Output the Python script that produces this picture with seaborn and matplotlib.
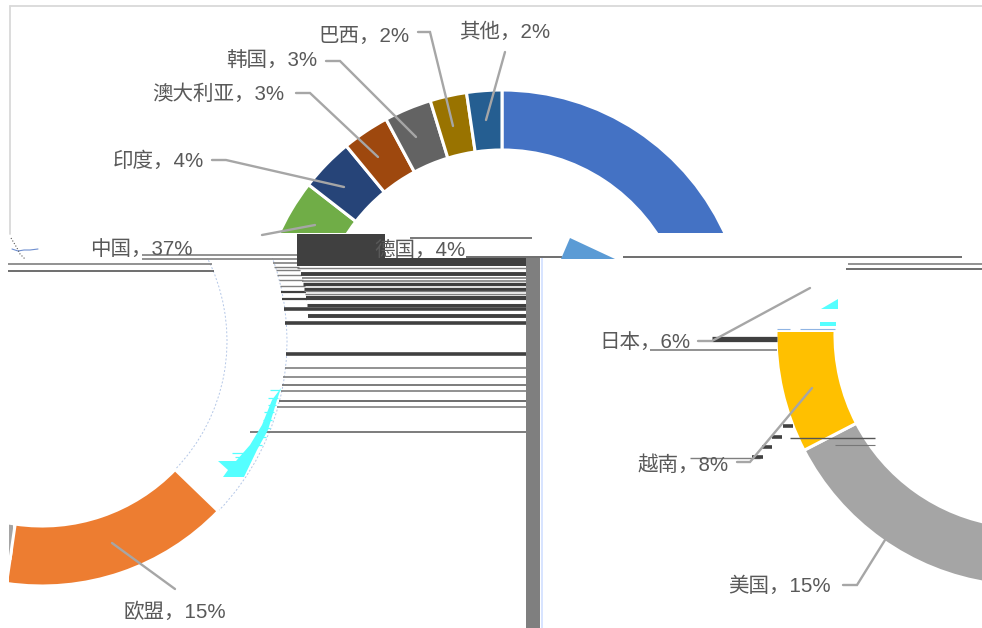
import matplotlib
matplotlib.use("Agg")
import matplotlib.pyplot as plt
from matplotlib.patches import Rectangle, Polygon
import seaborn as sns

sns.set_theme(style="white")

categories = ["中国", "欧盟", "美国", "越南", "日本", "德国", "印度", "澳大利亚", "韩国", "巴西", "其他"]
drawn_shares = [37.0, 15.0, 15.0, 8.0, 6.0, 4.0, 3.5, 3.1, 3.1, 2.4, 2.3]
label_shares = [37, 15, 15, 8, 6, 4, 4, 3, 3, 2, 2]
colors = sns.color_palette(["#4472C4", "#ED7D31", "#A5A5A5", "#FFC000", "#5B9BD5", "#70AD47",
                            "#264478", "#9E480E", "#636363", "#997300", "#255E91"])

H = 628
W = 982
fig = plt.figure(figsize=(9.82, 6.28), dpi=100)
ax = fig.add_axes([0, 0, 1, 1])
Y = lambda py: H - py
TXT = "#595959"
LEAD = "#A6A6A6"
DARK = "#404040"
MID = "#7F7F7F"
FONT = ["Liberation Sans", "Noto Sans CJK SC", "DejaVu Sans"]


def clip_rect(x0, y0, x1, y1):
    return Rectangle((x0, Y(y1)), x1 - x0, y1 - y0, transform=ax.transData)


def donut(cx, cy, R, r, clip, show):
    wedges, _ = ax.pie(drawn_shares, colors=colors, center=(cx, Y(cy)), radius=R, startangle=90,
                       counterclock=False, normalize=True,
                       wedgeprops=dict(width=R - r, edgecolor="white", linewidth=2.2))
    for i, w in enumerate(wedges):
        w.set_clip_on(True)
        w.set_clip_path(clip_rect(*clip))
        if i not in show:
            w.set_visible(False)
    return wedges


# the three displaced copies of the ring
donut(502, 335, 245, 185, (10, 0, W, 233), set(range(11)))
left = donut(42, 341, 245, 185, (9, 258, 600, H), {0, 1, 2})
left[0].set(facecolor="none", edgecolor="#B4C7E7", linewidth=0.7, linestyle=(0, (2, 2)))
left[2].set_clip_path(clip_rect(9, 500, 13, 560))
donut(1027, 335, 251, 192, (0, 332, W, H), {2, 3})

ax.set_xlim(0, W)
ax.set_ylim(0, H)
ax.set_aspect("auto")
ax.axis("off")

# frame remnant
ax.plot([10, 982], [Y(6), Y(6)], color="#D9D9D9", lw=1.3)
ax.plot([10, 10], [Y(6), Y(234)], color="#D9D9D9", lw=1.3)

# horizontal glitch bands: (y, x0, x1, colour, width in points)
bands = [
    (264, 8, 212, MID, 1.2), (270.5, 8, 214, "#555555", 1.2),
    (255, 142, 297, MID, 1.2), (259, 142, 297, MID, 1.2),
    (263, 273, 297, MID, 1.2), (267, 274, 299, MID, 1.0), (270, 276, 300, MID, 1.0),
    (275, 277, 301, MID, 1.0), (280, 279, 303, MID, 1.0), (286, 280, 305, MID, 1.0),
    (292, 281, 306, DARK, 1.6), (299, 282, 307, DARK, 1.6), (309, 284, 526, DARK, 2.6),
    (323, 285, 526, DARK, 2.6),
    (268, 297, 526, MID, 1.0), (273.5, 301, 526, DARK, 2.8), (278, 302, 526, MID, 1.2),
    (281, 302, 526, MID, 1.2), (284, 303, 526, DARK, 2.4), (288.5, 304, 526, DARK, 2.4),
    (291, 304, 526, MID, 1.0), (293.5, 305, 526, MID, 1.0), (297.5, 306, 526, DARK, 3.0),
    (304.5, 307, 526, DARK, 2.2), (315.5, 308, 526, DARK, 2.8),
    (353.5, 286, 526, DARK, 2.6), (368, 285, 526, MID, 1.2), (377, 283, 526, MID, 1.2),
    (385, 282, 526, "#666666", 1.2), (391, 281, 526, MID, 1.2), (401, 279, 526, "#555555", 1.2),
    (407, 277, 526, MID, 1.2), (432, 250, 526, "#666666", 1.2),
    (238, 410, 532, "#555555", 1.1), (257, 466, 562, "#555555", 1.2),
    (256.5, 623, 962, "#555555", 1.2), (264, 848, 982, MID, 1.2), (268.5, 846, 982, "#555555", 1.2),
    (338.5, 712, 777, DARK, 3.8), (349.5, 650, 777, MID, 1.2),
    (438, 790, 875, "#555555", 1.0), (445, 835, 875, "#777777", 0.8), (458, 690, 760, MID, 1.0),
    (426, 783, 793, DARK, 2.6), (437, 772, 782, DARK, 2.6), (447, 762, 772, DARK, 2.6),
    (457, 752, 763, DARK, 2.6),
    (329, 777, 790, "#8FB4E3", 0.8), (328.5, 800, 835, "#8FB4E3", 0.8),
]
for y, x0, x1, c, lw in bands:
    ax.plot([x0, x1], [Y(y), Y(y)], color=c, lw=lw, solid_capstyle="butt", zorder=2)

# solid glitch blocks
ax.add_patch(Rectangle((297, Y(262)), 88, 28, color=DARK, lw=0, zorder=2))
ax.add_patch(Rectangle((297, Y(266)), 229, 8, color=DARK, lw=0, zorder=2))
ax.add_patch(Rectangle((526, 0), 14, Y(258), color=MID, lw=0, zorder=2))
ax.add_patch(Rectangle((541, 0), 2, Y(258), color="#D8E4FF", lw=0, zorder=2))
ax.add_patch(Polygon([(570, Y(238)), (561, Y(259)), (615, Y(259))], color=colors[4], lw=0, zorder=2))

# cyan fragments
cyan = "#55FFFF"
ax.add_patch(Polygon([(838, Y(299)), (821, Y(309)), (838, Y(309))], color=cyan, lw=0, zorder=2))
ax.add_patch(Rectangle((820, Y(326)), 16, 4, color=cyan, lw=0, zorder=2))
ax.add_patch(Polygon([(281, Y(388)), (277, Y(400)), (268, Y(430)), (257, Y(450)), (244, Y(477)),
                      (223, Y(477)), (228, Y(470)), (218, Y(461)), (236, Y(461)), (250, Y(445)),
                      (262, Y(425)), (272, Y(400))], color=cyan, lw=0, zorder=2))
dashes = [(390, 270, 280), (398, 268, 278), (405, 268, 276), (412, 264, 274), (420, 263, 272),
          (428, 261, 270), (437, 256, 266), (445, 252, 262), (453, 232, 250), (457, 235, 245)]
for y, x0, x1 in dashes:
    ax.plot([x0, x1], [Y(y), Y(y)], color=cyan, lw=0.9, solid_capstyle="butt", zorder=2)

# blue speckle near the top-left corner
ax.plot([12, 18, 24, 30, 38], [Y(249), Y(251), Y(250), Y(250), Y(249)], color="#6F8FD0", lw=0.8)
ax.plot([11, 14, 17, 20, 25], [Y(238), Y(243), Y(248), Y(254), Y(259)], color="#555555", lw=0.8, ls=":")

# leader lines
leaders = {
    "其他": [(505, 52), (486, 120)],
    "巴西": [(418, 32), (430, 32), (453, 126)],
    "韩国": [(326, 61), (340, 61), (416, 137)],
    "澳大利亚": [(296, 93), (310, 93), (378, 157)],
    "印度": [(212, 160), (226, 160), (344, 187)],
    "德国": [(262, 235), (315, 225)],
    "日本": [(698, 341), (712, 341), (810, 288)],
    "越南": [(737, 462), (750, 462), (812, 388)],
    "美国": [(843, 585), (857, 585), (885, 540)],
    "欧盟": [(175, 589), (112, 543)],
}
for pts in leaders.values():
    ax.plot([p[0] for p in pts], [Y(p[1]) for p in pts], color=LEAD, lw=1.7, zorder=3,
            solid_joinstyle="miter")

# category labels
label_pos = {
    "中国": (141, 249), "欧盟": (175, 612), "美国": (780, 586), "越南": (683, 465),
    "日本": (645, 342), "德国": (420, 251), "印度": (158, 161), "澳大利亚": (218, 94),
    "韩国": (272, 61), "巴西": (364, 36), "其他": (505, 32),
}
for name, share in zip(categories, label_shares):
    x, y = label_pos[name]
    ax.text(x, Y(y), f"{name}，{share}%", ha="center", va="center", fontsize=14.8,
            color=TXT, family=FONT, zorder=4)

fig.savefig("out.png", dpi=100, facecolor="white")
